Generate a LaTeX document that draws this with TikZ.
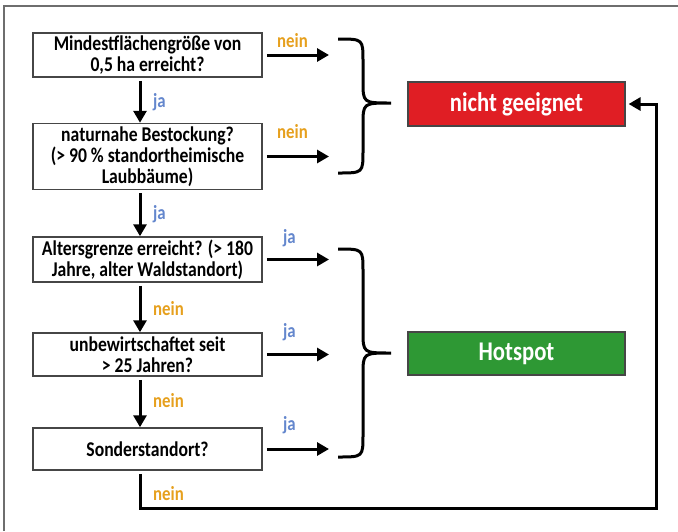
\documentclass[tikz,border=0pt]{standalone}
\usepackage{fontspec}
\setmainfont{Carlito}[FakeStretch=0.84]
\usetikzlibrary{arrows.meta,calc,positioning}

\definecolor{neinorange}{RGB}{230,160,30}
\definecolor{jablue}{RGB}{100,135,205}
\definecolor{stopred}{RGB}{224,30,36}
\definecolor{hotgreen}{RGB}{46,152,52}
\definecolor{boxgray}{RGB}{70,70,70}
\definecolor{framegray}{RGB}{110,110,110}

\begin{document}
\begin{tikzpicture}[
            x=1pt, y=-1pt,
            question/.style={draw=boxgray, line width=1.5pt, fill=white, minimum width=229pt, align=center, inner sep=0pt, font=\bfseries\fontsize{21}{21}\selectfont},
            result/.style={draw=boxgray, line width=1.2pt, minimum width=217pt, text=white, font=\bfseries\fontsize{27}{27}\selectfont},
            flow/.style={line width=3pt, -{Triangle[length=12pt,width=13pt]}},
            bracket/.style={line width=3pt},
            jalabel/.style={text=jablue, font=\bfseries\fontsize{20}{20}\selectfont, inner sep=0pt},
            neinlabel/.style={text=neinorange, font=\bfseries\fontsize{20}{20}\selectfont, inner sep=0pt},
        ]
        \useasboundingbox (0,0) rectangle (678,531);
        % frame
        \draw[framegray, line width=1.3pt] (4,531) -- (4,6) -- (678,6);
        % LEFT: questions
        \node[question, minimum height=44pt] (q1) at (147.5,55) {Mindestflächengröße von\\0,5 ha erreicht?};
        \node[question, minimum height=66pt] (q2) at (147.5,156.5) {naturnahe Bestockung?\\(> 90 \% standortheimische\\Laubbäume)};
        \node[question, minimum height=45pt] (q3) at (147.5,259.5) {Altersgrenze erreicht? (> 180\\Jahre, alter Waldstandort)};
        \node[question, minimum height=43pt] (q4) at (147.5,354.5) {unbewirtschaftet seit\\> 25 Jahren?};
        \node[question, minimum height=42pt] (q5) at (147.5,449) {Sonderstandort?};
        % RIGHT: results
        \node[result, fill=stopred, minimum height=44pt] (nogo) at (516.5,104) {nicht geeignet};
        \node[result, fill=hotgreen, minimum height=43pt] (hot) at (516.5,353.5) {Hotspot};
        % downward arrows
        \foreach \a/\b in {q1/q2,q2/q3,q3/q4,q4/q5} {
            \draw[flow] ([xshift=-7.5pt,yshift=-3pt]\a.south) -- ([xshift=-7.5pt]\b.north);
        }
        % arrows to the braces
        \coordinate (armend) at (329,0);
        \foreach \q in {q1,q2,q3,q4,q5} {
            \draw[flow] ([xshift=4pt]\q.east) -- (\q.east -| armend);
        }
        % braces
        \def\bl{338} \def\bm{363} \def\bt{391} \def\br{22}
        \foreach \ya/\ym/\yb in {39/103/173, 249/353/457} {
            \draw[bracket] (\bl,\ya) .. controls (\bm,\ya) .. (\bm,\ya+\br) -- (\bm,\ym-\br)
                .. controls (\bm,\ym) .. (\bt,\ym) .. controls (\bm,\ym) .. (\bm,\ym+\br)
                -- (\bm,\yb-\br) .. controls (\bm,\yb) .. (\bl,\yb);
        }
        % way back to nicht geeignet
        \coordinate (loop) at (656,508);
        \draw[flow] ([xshift=-7.5pt,yshift=-3pt]q5.south) |- (loop) |- ([xshift=3pt]nogo.east);
        % labels
        \node[jalabel, anchor=base west] at (153,107) {ja};
        \node[jalabel, anchor=base west] at (153,219) {ja};
        \node[neinlabel, anchor=base west] at (153,315) {nein};
        \node[neinlabel, anchor=base west] at (153,407) {nein};
        \node[neinlabel, anchor=base west] at (153,500) {nein};
        \node[neinlabel, anchor=base west] at (277,47) {nein};
        \node[neinlabel, anchor=base west] at (277,138) {nein};
        \node[jalabel, anchor=base west] at (283,243) {ja};
        \node[jalabel, anchor=base west] at (283,337) {ja};
        \node[jalabel, anchor=base west] at (283,430) {ja};
        \end{tikzpicture}
\end{document}
